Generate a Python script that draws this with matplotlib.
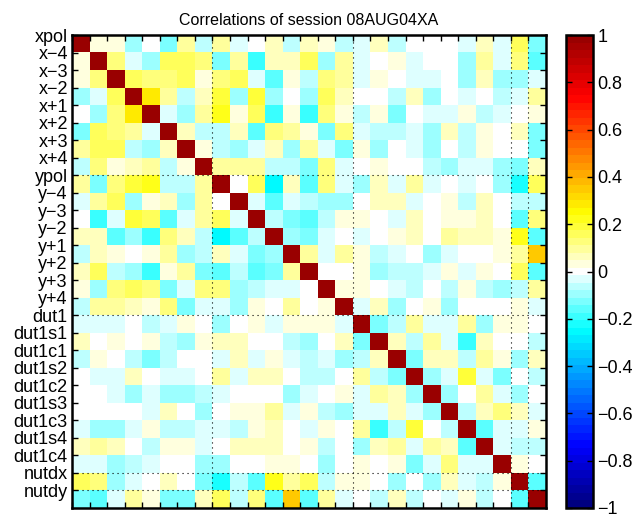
import numpy as np
import matplotlib
matplotlib.use('Agg')
import matplotlib.pyplot as plt
from matplotlib.colors import LinearSegmentedColormap

plt.rcParams['font.family'] = ['Liberation Sans', 'DejaVu Sans']

session = '08AUG04XA'
params = ['xpol', 'x\u22124', 'x\u22123', 'x\u22122', 'x+1', 'x+2', 'x+3', 'x+4',
          'ypol', 'y\u22124', 'y\u22123', 'y\u22122', 'y+1', 'y+2', 'y+3', 'y+4',
          'dut1', 'dut1s1', 'dut1c1', 'dut1s2', 'dut1c2', 'dut1s3', 'dut1c3',
          'dut1s4', 'dut1c4', 'nutdx', 'nutdy']

# upper triangle of the correlation matrix, row i holds columns i+1..26
r00 = [0.04, 0.04, -0.09, 0, -0.12, 0.1, -0.07, 0.11, -0.03, 0, 0.06, -0.06, 0.06,
       0.03, -0.06, -0.03, 0.055, -0.06, 0, 0, 0, -0.03, 0.06, -0.03, 0.15, -0.12]
r01 = [0.14, -0.03, -0.09, 0.16, 0.15, 0.12, -0.14, 0.1, -0.19, 0.05, 0.05, 0.15,
       -0.09, 0.09, -0.03, 0, 0.03, -0.03, 0, 0, -0.09, 0.09, -0.04, 0.12, -0.16]
r02 = [0.15, 0.14, 0.14, 0.15, 0.04, 0.14, 0.15, -0.04, -0.15, 0.03, -0.055, 0.14,
       0.11, -0.03, 0.03, 0, -0.03, -0.03, 0, -0.09, 0.06, -0.09, -0.11, -0.03]
r03 = [0.28, 0.11, -0.06, 0.075, 0.18, -0.09, 0.2, -0.09, 0, -0.09, 0.15, 0.075,
       0, 0, -0.06, 0.06, -0.09, 0, -0.03, 0, -0.055, -0.04, 0.11]
r04 = [-0.03, -0.11, 0.11, 0.22, 0.03, 0.16, -0.19, 0.03, -0.19, 0.14, 0.03,
       -0.06, 0.03, -0.12, 0, -0.03, -0.03, 0.03, -0.06, -0.03, 0, 0.03]
r05 = [0.05, -0.07, -0.07, 0.05, -0.16, 0.14, 0.1, 0.03, -0.14, 0.12, -0.03,
       -0.055, -0.055, -0.03, -0.09, 0.055, -0.055, 0.03, 0, 0.05, -0.12]
r06 = [0.03, -0.055, -0.09, -0.03, 0.075, -0.11, 0.11, -0.03, -0.12, 0.025,
       -0.09, 0, -0.03, -0.11, 0, -0.07, 0.035, 0, 0, -0.14]
r07 = [0.1, 0.11, 0.1, -0.07, -0.07, -0.13, 0.12, -0.03, 0, 0.03, 0, 0, -0.06,
       -0.09, -0.04, -0.04, -0.1, -0.12, 0.055]
r08 = [0, 0.15, -0.26, 0.06, -0.16, 0.14, -0.03, -0.09, 0.05, -0.04, 0.1, -0.03,
       0, -0.03, 0, -0.1, -0.23, 0.15]
r09 = [-0.03, -0.16, -0.03, -0.055, -0.09, -0.11, 0, 0.05, 0.05, -0.03, 0, 0.035,
       -0.06, 0.075, 0, -0.06, -0.055]
r10 = [-0.06, -0.12, -0.17, -0.06, 0.03, 0.035, 0, -0.04, 0.075, 0, 0.04, 0.04,
       0.05, 0, -0.16, 0.14]
r11 = [-0.09, -0.14, -0.03, 0, -0.03, 0, 0.04, 0.05, 0, 0.11, 0.05, 0.05, 0.035,
       0.21, -0.15]
r12 = [0.1, -0.03, 0.1, 0.035, -0.055, -0.03, 0, -0.09, -0.03, 0, 0, 0.03, 0.11, 0.35]
r13 = [0, 0, 0.03, -0.09, -0.06, -0.07, -0.03, 0.03, -0.03, 0.035, 0, 0.16, -0.15]
r14 = [0.03, 0.035, 0, -0.03, -0.055, 0, -0.06, 0.03, -0.06, -0.09, -0.055, 0.11]
r15 = [-0.03, 0.05, -0.09, 0, 0.03, -0.11, 0, 0, 0, 0.04, -0.03]
r16 = [-0.12, -0.055, 0.1, -0.03, -0.03, 0.09, -0.09, 0.04, 0.035, 0]
r17 = [0.075, -0.055, 0.11, -0.03, -0.19, 0.05, 0, 0, -0.055]
r18 = [-0.14, 0.075, 0.075, -0.06, 0.11, 0.03, -0.1, 0.05]
r19 = [-0.09, -0.03, 0.19, -0.03, -0.14, 0, -0.055]
r20 = [-0.11, 0, 0.11, -0.03, -0.09, 0]
r21 = [-0.055, 0.055, 0.14, 0.05, -0.03]
r22 = [-0.17, -0.03, -0.03, 0.03]
r23 = [-0.03, -0.055, -0.055]
r24 = [0.03, 0]
r25 = [-0.15]
upper = [r00, r01, r02, r03, r04, r05, r06, r07, r08, r09, r10, r11, r12, r13,
         r14, r15, r16, r17, r18, r19, r20, r21, r22, r23, r24, r25]

n = len(upper) + 1
C = np.eye(n)
for i, row in enumerate(upper):
    C[i, i + 1:] = row
    C[i + 1:, i] = row

# jet-like map with white in the middle instead of green
nodes = [(0.0, (0, 0, 0.5)), (0.125, (0, 0, 1)), (0.375, (0, 1, 1)),
         (0.5, (1, 1, 1)), (0.625, (1, 1, 0)), (0.875, (1, 0, 0)),
         (1.0, (0.6, 0, 0))]
cmap = LinearSegmentedColormap.from_list('corr', nodes, N=63)

fig = plt.figure(figsize=(6.35, 5.21), dpi=100)
ax = fig.add_axes([72 / 635, 13 / 521, 474 / 635, 473 / 521])
im = ax.imshow(C, cmap=cmap, vmin=-1, vmax=1, aspect='auto',
               interpolation='nearest')

edges = np.arange(n) - 0.5
ax.set_yticks(edges)
ax.set_yticklabels(params, fontsize=13)
ax.set_xticks(edges)
ax.set_xticklabels([])
ax.tick_params(direction='in', length=4, width=1, top=True, right=True,
               bottom=True, left=True, pad=3)
for s in ax.spines.values():
    s.set_linewidth(1.8)

# group separators
for k in [8, 16, 25, 26]:
    ax.axhline(k - 0.5, color='k', lw=0.8, ls=(0, (1, 3.5)))
    ax.axvline(k - 0.5, color='k', lw=0.8, ls=(0, (1, 3.5)))

ax.set_title('Correlations of session ' + session, fontsize=11.5, pad=7)

cax = fig.add_axes([566 / 635, 13 / 521, 27 / 635, 473 / 521])
cb = fig.colorbar(im, cax=cax, ticks=np.linspace(-1, 1, 11))
cb.ax.set_yticklabels(['\u22121', '\u22120.8', '\u22120.6', '\u22120.4', '\u22120.2',
                       '0', '0.2', '0.4', '0.6', '0.8', '1'], fontsize=13)
cb.ax.tick_params(direction='in', length=4, width=1, left=True, right=True, pad=3)
cb.outline.set_linewidth(1.8)

plt.savefig('out.png', dpi=100)
